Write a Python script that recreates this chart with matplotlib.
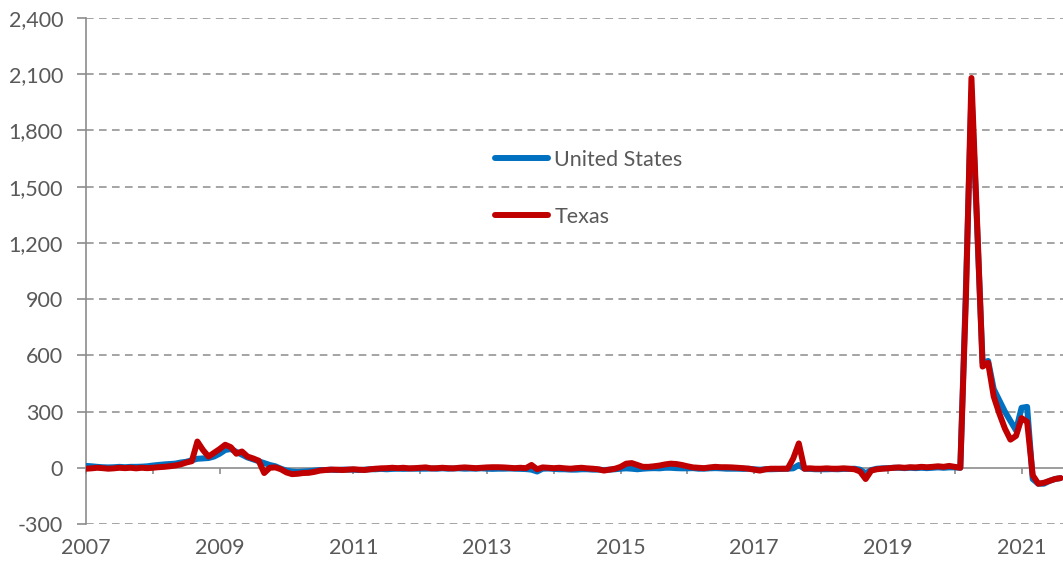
import numpy as np
import matplotlib
matplotlib.use("Agg")
import matplotlib.pyplot as plt
from matplotlib.ticker import FuncFormatter

plt.rcParams['font.family'] = ['Lato', 'DejaVu Sans']

# Monthly values, Jan 2007 - Aug 2021
texas = (
    [-5, -3, 0, -2, -5, -3, 0, -2, 0, -3, 0, -2] +           # 2007
    [0, 3, 5, 8, 12, 18, 28, 35, 140, 95, 60, 80] +          # 2008
    [100, 123, 110, 75, 87, 60, 50, 38, -28, 0, 2, -8] +     # 2009
    [-25, -34, -32, -28, -27, -22, -15, -12, -10, -10, -12, -10] +  # 2010
    [-8, -10, -12, -8, -5, -3, -2, 0, -2, 0, -3, -2] +       # 2011
    [0, 2, -3, -2, 0, -2, -3, 0, 2, 0, -2, 0] +              # 2012
    [2, 3, 3, 2, 0, -2, 0, -2, 15, -8, 2, 0] +               # 2013
    [-2, 0, -3, -5, -2, 0, -3, -5, -8, -15, -10, -5] +       # 2014
    [5, 22, 25, 15, 5, 5, 8, 12, 18, 22, 20, 15] +           # 2015
    [8, 2, 0, -2, 2, 5, 3, 3, 2, 0, -2, -5] +                # 2016
    [-10, -15, -8, -5, -5, -5, -5, 50, 130, -5, -3, -5] +    # 2017
    [-5, -3, -5, -5, -3, -5, -8, -20, -60, -15, -8, -5] +    # 2018
    [-3, 0, 2, 0, 3, 2, 5, 3, 5, 8, 5, 10] +                 # 2019
    [5, 0, 900, 2080, 1320, 540, 560, 380, 290, 210, 150, 170] +  # 2020
    [265, 245, -40, -85, -80, -70, -60, -55]                 # 2021
)
united_states = (
    [10, 8, 5, 3, 2, 3, 5, 3, 5, 5, 6, 8] +
    [12, 15, 18, 20, 22, 28, 32, 40, 48, 50, 52, 60] +
    [75, 95, 100, 85, 70, 55, 45, 35, 25, 15, 8, -5] +
    [-15, -20, -22, -20, -18, -15, -12, -12, -10, -12, -10, -10] +
    [-10, -12, -10, -8, -8, -6, -8, -6, -5, -6, -5, -5] +
    [-5, -5, -4, -5, -3, -5, -4, -3, -5, -4, -5, -3] +
    [-5, -6, -5, -5, -4, -5, -6, -7, -10, -20, -5, -4] +
    [-6, -8, -8, -10, -10, -8, -8, -10, -10, -12, -10, -8] +
    [-5, -3, -5, -8, -5, -3, -2, -3, 0, 0, -2, -3] +
    [-3, -2, -5, -5, -3, -2, -3, -5, -5, -5, -6, -5] +
    [-8, -10, -8, -8, -7, -6, -5, -3, 15, -5, -6, -8] +
    [-8, -8, -7, -8, -6, -6, -5, -10, -30, -12, -5, -3] +
    [-2, 0, 0, -2, 0, -2, 0, -2, 0, 2, 0, 2] +
    [2, 0, 950, 2000, 1300, 560, 570, 420, 360, 300, 250, 200] +
    [320, 325, -60, -85, -85, -70, -60, -55]
)
months = 2007 + np.arange(len(texas)) / 12.0
year_ticks = list(range(2007, 2022))
year_labels = list(range(2007, 2022, 2))
y_ticks = list(range(-300, 2401, 300))

grid_col = '#8c8c8c'
text_col = '#595959'
fs = 15.5

fig = plt.figure(figsize=(10.63, 5.69), dpi=100)
ax = fig.add_axes([86 / 1063, 45 / 569, 1 - 86 / 1063, (524 - 18) / 569])

ax.plot(months, united_states, color='#0070C0', lw=4.3, label='United States',
        solid_joinstyle='round', solid_capstyle='round', zorder=3)
ax.plot(months, texas, color='#C00000', lw=4.3, label='Texas',
        solid_joinstyle='round', solid_capstyle='round', zorder=4)

ax.set_xlim(2007, 2021.62)
ax.set_ylim(-300, 2400)
ax.set_yticks(y_ticks)
ax.yaxis.set_major_formatter(FuncFormatter(lambda v, p: f'{int(v):,}'))
for v in y_ticks:
    if v != 0:
        ax.axhline(v, color=grid_col, lw=1.1, ls=(0, (5, 3.5)), zorder=1)

for s in ['top', 'right']:
    ax.spines[s].set_visible(False)
ax.spines['left'].set_color(grid_col)
ax.spines['left'].set_linewidth(1.2)
ax.spines['bottom'].set_position(('data', 0))
ax.spines['bottom'].set_color(grid_col)
ax.spines['bottom'].set_linewidth(1.2)
ax.set_xticks(year_ticks)
ax.tick_params(axis='x', direction='out', length=4, color=grid_col, width=1.2,
               labelbottom=False)
ax.tick_params(axis='y', direction='out', length=6.5, color=grid_col, width=1.2,
               labelsize=fs, labelcolor=text_col, pad=10)

sec = ax.secondary_xaxis('bottom')
sec.set_xticks(year_labels)
sec.set_xticklabels([str(y) for y in year_labels])
sec.spines['bottom'].set_visible(False)
sec.tick_params(length=0, labelsize=fs, labelcolor=text_col, pad=10)

leg = fig.legend(loc='upper left', bbox_to_anchor=(495 / 1063, 1 - 150 / 569),
                 frameon=False, fontsize=fs, handlelength=2.45, handletextpad=0.3,
                 labelspacing=1.7, borderpad=0, borderaxespad=0)
for t in leg.get_texts():
    t.set_color(text_col)

fig.savefig('out.png', dpi=100)
